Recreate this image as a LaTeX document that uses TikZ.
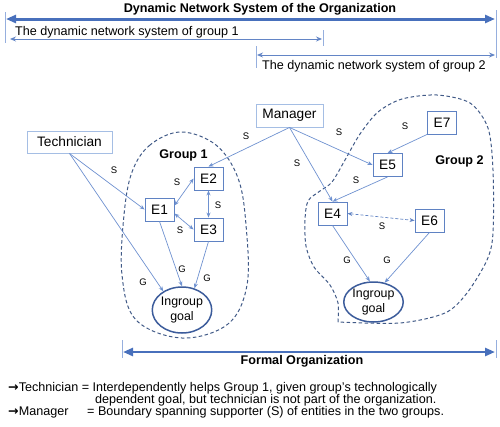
\documentclass[tikz,border=0pt]{standalone}
\usepackage{fontspec}
\setmainfont{Liberation Sans}
\newfontfamily\arrowfont{DejaVu Sans}
\usetikzlibrary{arrows.meta,shapes.geometric}
\definecolor{bigblue}{RGB}{72,112,188}
\definecolor{tickblue}{RGB}{150,175,222}
\definecolor{linkblue}{RGB}{110,145,208}
\definecolor{boxblue}{RGB}{165,190,228}
\definecolor{eblue}{RGB}{95,130,195}
\definecolor{dashblue}{RGB}{65,90,135}
\definecolor{goalblue}{RGB}{60,92,155}
\newcommand{\myarr}{{\arrowfont\bfseries\fontsize{12.6pt}{12pt}\selectfont →}}
\begin{document}
\begin{tikzpicture}[x=1pt,y=-1pt,
  bigarrow/.style={draw=bigblue, line width=3pt, {Triangle[length=10pt,width=8pt]}-{Triangle[length=10pt,width=8pt]}},
  thinarrow/.style={draw=bigblue!85, line width=0.9pt, {Stealth[length=6pt,width=5pt]}-{Stealth[length=6pt,width=5pt]}},
  tickline/.style={draw=tickblue, line width=1pt},
  txt/.style={font=\fontsize{12.6pt}{12pt}\selectfont, inner sep=0pt, anchor=base west},
  btxt/.style={font=\fontsize{12.6pt}{15pt}\selectfont\bfseries, inner sep=0pt, anchor=base},
  pbox/.style={draw=boxblue, line width=0.9pt, fill=white, inner sep=0pt, font=\fontsize{13.7pt}{16pt}\selectfont},
  ebox/.style={draw=eblue, line width=0.9pt, fill=white, inner sep=0pt, minimum width=29pt, minimum height=23pt, font=\fontsize{13.7pt}{16pt}\selectfont},
  goal/.style={ellipse, draw=goalblue, line width=1.5pt, inner sep=0pt, align=center, font=\fontsize{12.4pt}{15pt}\selectfont},
  link/.style={draw=linkblue, line width=0.7pt, -{Stealth[length=5pt,width=4pt]}},
  dlink/.style={draw=linkblue, line width=0.7pt, {Stealth[length=5pt,width=4pt]}-{Stealth[length=5pt,width=4pt]}},
  lab/.style={font=\fontsize{9.5pt}{11pt}\selectfont, inner sep=0pt},
  grp/.style={draw=dashblue, line width=1pt, dash pattern=on 3.5pt off 2.5pt}
]
\useasboundingbox (0,0) rectangle (500,426);

% top span arrows
\draw[tickline] (5,12) -- (5,43);
\draw[tickline] (496,10) -- (496,58);
\draw[tickline] (323,30) -- (323,46);
\draw[tickline] (256,46) -- (256,68);
\coordinate (a1) at (6,19);
\coordinate (a2) at (495,19);
\draw[bigarrow] (a1) -- (a2);
\node[btxt] (title) at (260,12.5) {Dynamic Network System of the Organization};
\coordinate (g1a) at (10,39);
\coordinate (g1b) at (322,39);
\draw[thinarrow] (g1a) -- (g1b);
\node[txt] (g1t) at (15,35) {The dynamic network system of group 1};
\coordinate (g2a) at (257,55);
\coordinate (g2b) at (495,55);
\draw[thinarrow] (g2a) -- (g2b);
\node[txt] (g2t) at (262,69) {The dynamic network system of group 2};

% group outlines
\draw[grp] plot[smooth cycle, tension=0.6] coordinates {(181,132) (150,145) (132,172) (124,215) (122,275) (136,320) (182,338) (228,324) (247,285) (246,225) (238,178) (216,145)};
\draw[grp] plot[smooth, tension=0.5] coordinates {(338,322) (338,303) (330,285) (314,267) (306,246) (305,220) (308,201) (320,191) (332,182) (345,160) (360,134) (378,112) (402,99) (437,95) (470,103) (488,128) (493,170) (493,233) (487,260) (467,293) (445,313) (400,323) (338,322)};

% nodes
\node[pbox, minimum width=85pt, minimum height=22pt] (tech) at (69.5,142) {Technician};
\node[pbox, minimum width=67pt, minimum height=23pt] (mgr) at (289.5,115.5) {Manager};
\node[btxt] (grp1) at (183.5,158) {Group 1};
\node[btxt] (grp2) at (459.5,164) {Group 2};
\node[ebox] (e2) at (208.5,178.5) {E2};
\node[ebox] (e1) at (159.5,209.5) {E1};
\node[ebox] (e3) at (208.5,229.5) {E3};
\node[ebox] (e7) at (442,122.5) {E7};
\node[ebox] (e5) at (387.5,165) {E5};
\node[ebox] (e4) at (332.5,213.5) {E4};
\node[ebox] (e6) at (429.5,220.5) {E6};
\node[goal, minimum width=50pt, minimum height=46pt] (goal1) at (182,310) {Ingroup\\goal};
\node[goal, minimum width=53pt, minimum height=40pt] (goal2) at (373.5,302) {Ingroup\\goal};

% connectors
\draw[link] (tech.south) -- (e1.west);
\draw[link] (tech.south) -- (goal1.135);
\draw[link] (mgr.south) -- (e2.north);
\draw[link] (mgr.south) -- (e5.west);
\draw[link] (mgr.south) -- (e4.north);
\draw[link] (e7.south west) -- (e5.north);
\draw[link] (e5.south) -- (e4.north);
\draw[dlink, draw=eblue, dash pattern=on 3pt off 2pt] (e4.east) -- (e6.west);
\draw[link] (e4.south) -- (goal2.100);
\draw[link] (e6.south) -- (goal2.60);
\draw[dlink] (e1.15) -- (e2.west);
\draw[dlink] (e2.south) -- (e3.north);
\draw[dlink] (e1.-15) -- (e3.west);
\draw[link] (e1.south) -- (goal1.north);
\draw[link] (e3.south) -- (goal1.60);

% labels
\node[lab] (l1) at (114,170) {S};
\node[lab] (l2) at (143,282) {G};
\node[lab] (l3) at (246,136) {S};
\node[lab] (l4) at (339,132) {S};
\node[lab] (l5) at (297,163) {S};
\node[lab] (l6) at (405,126) {S};
\node[lab] (l7) at (356,180) {S};
\node[lab] (l8) at (382,226) {S};
\node[lab] (l9) at (347,260) {G};
\node[lab] (l10) at (387,260) {G};
\node[lab] (l11) at (177,182) {S};
\node[lab] (l12) at (218,205) {S};
\node[lab] (l13) at (180,230) {S};
\node[lab] (l14) at (182,269) {G};
\node[lab] (l15) at (207,278) {G};

% formal organization
\draw[tickline] (122,340) -- (122,358);
\draw[tickline] (496,340) -- (496,358);
\coordinate (f1) at (123,352);
\coordinate (f2) at (495,352);
\draw[bigarrow, line width=2.6pt] (f1) -- (f2);
\node[btxt] (formal) at (302,364) {Formal Organization};

% footnote
\node[txt] (n1) at (8,391.5) {\myarr Technician = Interdependently helps Group 1, given group’s technologically};
\node[txt] (n2) at (95,403.5) {dependent goal, but technician is not part of the organization.};
\node[txt] (n3a) at (8,415.5) {\myarr Manager};
\node[txt] (n3b) at (87,415.5) {= Boundary spanning supporter (S) of entities in the two groups.};
\end{tikzpicture}
\end{document}
